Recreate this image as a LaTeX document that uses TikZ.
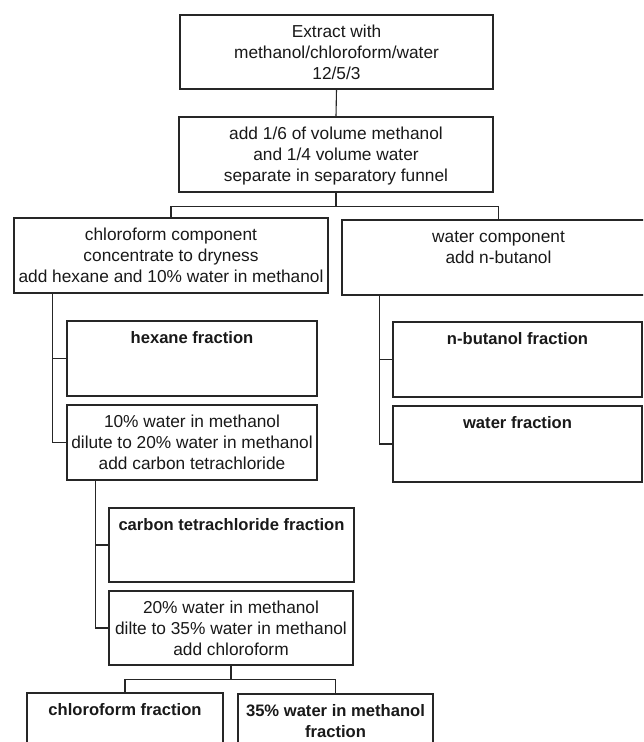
\documentclass[tikz,border=0pt]{standalone}
\usepackage{fontspec}
\setmainfont{Liberation Sans}
\usetikzlibrary{calc}
\begin{document}
\begin{tikzpicture}[x=1pt,y=-1pt,
  box/.style 2 args={draw=black!85, line width=1.1pt, rectangle, inner sep=0pt,
    minimum width=#1pt, minimum height=#2pt},
  ptext/.style={anchor=north, inner sep=0pt, yshift=-7.8pt, align=center,
    font=\fontsize{17.3}{21}\selectfont, text=black!90},
  ftext/.style={anchor=north, inner sep=0pt, yshift=-7.8pt, align=center,
    font=\bfseries\fontsize{16.6}{21}\selectfont, text=black!90},
  proc/.style={label={[ptext]north:{#1}}},
  frac/.style={label={[ftext]north:{#1}}},
  link/.style={draw=black!85, line width=1.1pt}]
\useasboundingbox (0,0) rectangle (643,742);
\fill[white] (0,0) rectangle (643,742);
\clip (0,0) rectangle (643,742);

% boxes
\node[box={313}{74}, proc={\strut Extract with\\methanol/chloroform/water\\12/5/3}] (b1) at (336.5,52) {};
\node[box={314}{75}, proc={\strut add 1/6 of volume methanol\\and 1/4 volume water\\separate in separatory funnel}] (b2) at (336,154.5) {};
\node[box={314}{75}, proc={\strut chloroform component\\concentrate to dryness\\add hexane and 10\% water in methanol}] (b3) at (171,255.5) {};
\node[box={313}{75}, proc={\strut water component\\add n-butanol}] (b4) at (498.5,257.5) {};
\node[box={250}{75}, frac={\strut hexane fraction}] (hex) at (192,358.5) {};
\node[box={250}{75}, proc={\strut 10\% water in methanol\\dilute to 20\% water in methanol\\add carbon tetrachloride}] (w10) at (192,442.5) {};
\node[box={249}{75}, frac={\strut n-butanol fraction}] (nbut) at (517.5,359.5) {};
\node[box={249}{76}, frac={\strut water fraction}] (wfr) at (517.5,444) {};
\node[box={245}{74}, frac={\strut carbon tetrachloride fraction}] (ctet) at (231.5,545) {};
\node[box={244}{74}, proc={\strut 20\% water in methanol\\dilte to 35\% water in methanol\\add chloroform}] (w20) at (231,628) {};
\node[box={196}{75}, frac={\strut chloroform fraction}] (chl) at (125,730.5) {};
\node[box={195}{75}, frac={\strut 35\% water in methanol\\fraction}] (w35) at (335.5,731.5) {};

% connectors
\draw[link] (b1.south) -- (b2.north);
\coordinate (j1) at ($(b2.south)+(0,14)$);
\draw[link] (b2.south) -- (j1);
\draw[link] (b3.north) |- (j1) -| (b4.north);

\coordinate (s3) at ($(b3.south west)+(39,0)$);
\draw[link] (s3) |- (w10.west);
\draw[link] (hex.west) -- (hex.west -| s3);

\coordinate (s4) at ($(b4.south west)+(38,0)$);
\draw[link] (s4) |- (wfr.west);
\draw[link] (nbut.west) -- (nbut.west -| s4);

\coordinate (s10) at ($(w10.south west)+(29,0)$);
\draw[link] (s10) |- (w20.west);
\draw[link] (ctet.west) -- (ctet.west -| s10);

\coordinate (j2) at ($(w20.south)+(0,14)$);
\draw[link] (w20.south) -- (j2);
\draw[link] (chl.north) |- (j2) -| (w35.north);
\end{tikzpicture}
\end{document}
